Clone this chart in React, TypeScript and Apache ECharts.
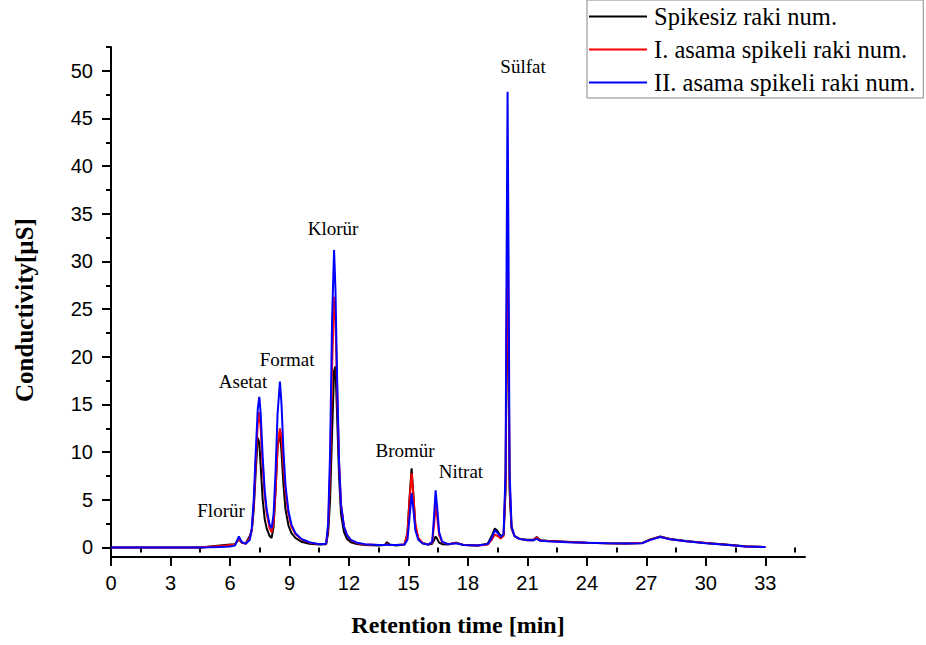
import React, { useEffect, useRef } from "react";
import * as echarts from "echarts";

const seriesNames = ["Spikesiz raki num.", "I. asama spikeli raki num.", "II. asama spikeli raki num."];
const seriesColors = ["#000000", "#ff0000", "#0000ff"];

const times = [
  0, 4.5, 5.0, 5.5, 6.0, 6.25, 6.45, 6.6, 6.8, 7.0,
  7.1, 7.2, 7.3, 7.4, 7.48, 7.55, 7.65, 7.75, 7.85, 8.0,
  8.1, 8.2, 8.3, 8.4, 8.52, 8.6, 8.7, 8.8, 8.95, 9.1,
  9.3, 9.6, 10.0, 10.5, 10.85, 10.95, 11.05, 11.15, 11.25, 11.32,
  11.4, 11.5, 11.6, 11.75, 11.9, 12.1, 12.4, 12.8, 13.5, 13.8,
  13.92, 14.05, 14.4, 14.8, 14.95, 15.05, 15.16, 15.25, 15.35, 15.5,
  15.7, 16.0, 16.2, 16.3, 16.37, 16.45, 16.55, 16.7, 17.0, 17.4,
  17.8, 18.5, 19.0, 19.2, 19.36, 19.5, 19.65, 19.8, 19.9, 19.95,
  20.0, 20.05, 20.1, 20.2, 20.35, 20.6, 21.0, 21.3, 21.47, 21.65,
  22.0, 23.0, 24.0, 25.0, 26.0, 26.8, 27.2, 27.7, 28.2, 29.0,
  30.0, 31.0, 32.0, 33.0,
];

const spikesiz = [
  0, 0, 0.1, 0.2, 0.3, 0.35, 0.85, 0.5, 0.45, 1.2,
  1.8, 4.0, 8.0, 11.5, 11.0, 8.5, 5.0, 3.0, 2.0, 1.2,
  1.0, 2.2, 6.0, 10.5, 12.2, 10.0, 6.5, 4.0, 2.3, 1.5,
  1.0, 0.6, 0.4, 0.3, 0.35, 1.5, 5.0, 12.0, 18.5, 19.0,
  14.0, 7.5, 3.5, 1.6, 0.9, 0.55, 0.35, 0.25, 0.2, 0.25,
  0.55, 0.3, 0.2, 0.3, 1.5, 5.0, 8.3, 5.5, 2.2, 0.9,
  0.45, 0.3, 0.4, 0.8, 1.15, 0.9, 0.5, 0.35, 0.3, 0.5,
  0.25, 0.2, 0.4, 1.2, 2.0, 1.7, 1.2, 1.3, 6.0, 20.0,
  31.0, 20.0, 6.0, 2.0, 1.2, 0.9, 0.8, 0.8, 1.1, 0.75,
  0.7, 0.6, 0.5, 0.45, 0.42, 0.48, 0.85, 1.15, 0.9, 0.68,
  0.47, 0.3, 0.12, 0.05,
];

const asama1 = [
  0, 0, 0.08, 0.15, 0.25, 0.3, 0.9, 0.5, 0.4, 1.0,
  1.8, 4.5, 9.0, 13.0, 14.2, 12.5, 8.5, 5.5, 3.6, 2.0,
  1.6, 2.6, 6.0, 10.5, 12.5, 11.5, 8.5, 5.8, 3.5, 2.2,
  1.4, 0.85, 0.5, 0.35, 0.4, 2.0, 8.0, 19.0, 26.3, 24.0,
  17.0, 9.0, 4.5, 2.2, 1.3, 0.75, 0.45, 0.3, 0.25, 0.25,
  0.35, 0.25, 0.25, 0.3, 1.4, 4.8, 7.8, 5.5, 2.5, 1.0,
  0.5, 0.3, 0.5, 2.5, 4.5, 3.2, 1.3, 0.55, 0.35, 0.5,
  0.25, 0.2, 0.3, 0.8, 1.35, 1.2, 0.95, 1.2, 7.0, 22.0,
  34.0, 22.0, 7.0, 2.1, 1.2, 0.9, 0.75, 0.75, 1.05, 0.72,
  0.68, 0.57, 0.5, 0.45, 0.42, 0.46, 0.82, 1.12, 0.87, 0.66,
  0.46, 0.29, 0.11, 0.05,
];

const asama2 = [
  0, 0, 0.02, 0.05, 0.1, 0.2, 1.15, 0.55, 0.4, 0.8,
  2.0, 5.0, 10.0, 14.5, 15.8, 14.0, 9.5, 6.0, 4.0, 2.4,
  2.0, 3.5, 8.0, 14.0, 17.4, 15.0, 10.0, 6.5, 3.8, 2.4,
  1.5, 0.9, 0.55, 0.35, 0.4, 2.5, 10.0, 24.0, 31.2, 27.0,
  18.0, 9.0, 4.5, 2.2, 1.3, 0.8, 0.5, 0.35, 0.25, 0.25,
  0.3, 0.25, 0.25, 0.3, 0.8, 3.0, 5.7, 4.0, 1.8, 0.8,
  0.45, 0.3, 0.6, 3.5, 6.0, 4.2, 1.6, 0.6, 0.35, 0.45,
  0.25, 0.2, 0.35, 1.0, 1.8, 1.5, 1.1, 1.4, 8.0, 30.0,
  47.8, 30.0, 8.0, 2.2, 1.2, 0.9, 0.75, 0.75, 0.9, 0.7,
  0.65, 0.55, 0.5, 0.45, 0.42, 0.45, 0.8, 1.1, 0.85, 0.65,
  0.45, 0.28, 0.1, 0.05,
];

const peakNames = ["Florür", "Asetat", "Format", "Klorür", "Bromür", "Nitrat", "Sülfat"];
const peakLabelTimes = [5.55, 6.66, 8.88, 11.2, 14.83, 17.65, 20.78];
const peakLabelValues = [3.93, 17.46, 19.77, 33.5, 10.12, 7.92, 50.5];

const xTicks = [0, 3, 6, 9, 12, 15, 18, 21, 24, 27, 30, 33];
const xMinorTicks = [1.5, 4.5, 7.5, 10.5, 13.5, 16.5, 19.5, 22.5, 25.5, 28.5, 31.5, 34.5];
const yTicks = [0, 5, 10, 15, 20, 25, 30, 35, 40, 45, 50];
const yMinorTicks = [2.5, 7.5, 12.5, 17.5, 22.5, 27.5, 32.5, 37.5, 42.5, 47.5, 52.5];

const xTitle = "Retention time [min]";
const yTitle = "Conductivity[µS]";

const SERIF = "'Liberation Serif', 'Times New Roman', serif";
const SANS = "'Liberation Sans', Arial, sans-serif";

export default function App() {
  const ref = useRef<HTMLDivElement>(null);

  useEffect(() => {
    if (!ref.current) return;
    const chart = echarts.init(ref.current, undefined, { renderer: "svg" });
    const valuesList = [spikesiz, asama1, asama2];
    const axisLineStyle = { color: "#000", width: 2 };

    const lineSeries = seriesNames.map((name, i) => ({
      name,
      type: "line",
      data: times.map((t, k) => [t, valuesList[i][k]]),
      showSymbol: false,
      symbol: "none",
      smooth: false,
      lineStyle: { color: seriesColors[i], width: 2 },
      itemStyle: { color: seriesColors[i] },
      z: 2 + i,
    }));

    const titleGraphics = [
      {
        type: "text",
        x: 458,
        y: 625,
        style: {
          text: xTitle,
          fontFamily: SERIF,
          fontWeight: "bold",
          fontSize: 24,
          fill: "#000",
          textAlign: "center",
          textVerticalAlign: "middle",
        },
      },
      {
        type: "text",
        x: 24,
        y: 310,
        rotation: Math.PI / 2,
        style: {
          text: yTitle,
          fontFamily: SERIF,
          fontWeight: "bold",
          fontSize: 25,
          fill: "#000",
          textAlign: "center",
          textVerticalAlign: "middle",
        },
      },
    ];

    chart.setOption({
      animation: false,
      backgroundColor: "#fff",
      grid: { left: 111, right: 121, top: 47, bottom: 88, containLabel: false },
      legend: {
        data: seriesNames.map((n) => ({ name: n, icon: "rect" })),
        orient: "vertical",
        left: 587,
        top: 0,
        itemWidth: 58,
        itemHeight: 2,
        itemGap: 8,
        padding: [4, 8, 3, 2],
        borderColor: "#888",
        borderWidth: 1,
        backgroundColor: "#fff",
        textStyle: { fontFamily: SERIF, fontSize: 24.5, color: "#000", lineHeight: 24, padding: [0, 0, 0, 2] },
        selectedMode: false,
      },
      xAxis: [
        {
          type: "value",
          min: 0,
          max: 35,
          axisLine: { show: true, lineStyle: axisLineStyle, onZero: false },
          axisTick: { show: true, length: 9, lineStyle: axisLineStyle, customValues: xTicks },
          axisLabel: { customValues: xTicks, fontFamily: SANS, fontSize: 20, color: "#000", margin: 16 },
          splitLine: { show: false },
        },
        {
          type: "value",
          min: 0,
          max: 35,
          position: "bottom",
          axisLine: { show: false },
          axisTick: { show: true, length: 5, lineStyle: axisLineStyle, customValues: xMinorTicks },
          axisLabel: { show: false },
          splitLine: { show: false },
        },
      ],
      yAxis: [
        {
          type: "value",
          min: -1,
          max: 52.5,
          axisLine: { show: true, lineStyle: axisLineStyle, onZero: false },
          axisTick: { show: true, length: 9, lineStyle: axisLineStyle, customValues: yTicks },
          axisLabel: { customValues: yTicks, fontFamily: SANS, fontSize: 20, color: "#000", margin: 18 },
          splitLine: { show: false },
        },
        {
          type: "value",
          min: -1,
          max: 52.5,
          position: "left",
          axisLine: { show: false },
          axisTick: { show: true, length: 5, lineStyle: axisLineStyle, customValues: yMinorTicks },
          axisLabel: { show: false },
          splitLine: { show: false },
        },
      ],
      graphic: titleGraphics,
      series: lineSeries,
    });

    const peakGraphics = peakNames.map((n, i) => {
      const p = chart.convertToPixel({ xAxisIndex: 0, yAxisIndex: 0 }, [peakLabelTimes[i], peakLabelValues[i]]) as number[];
      return {
        type: "text",
        x: p[0],
        y: p[1],
        z: 10,
        silent: true,
        style: {
          text: n,
          fontFamily: SERIF,
          fontSize: 19,
          fill: "#000",
          textAlign: "center",
          textVerticalAlign: "middle",
        },
      };
    });

    chart.setOption({ graphic: [...titleGraphics, ...peakGraphics] });

    return () => chart.dispose();
  }, []);

  return (
    <div
      ref={ref}
      style={{ position: "fixed", left: 0, top: 0, width: 926, height: 645, background: "#fff" }}
    />
  );
}
